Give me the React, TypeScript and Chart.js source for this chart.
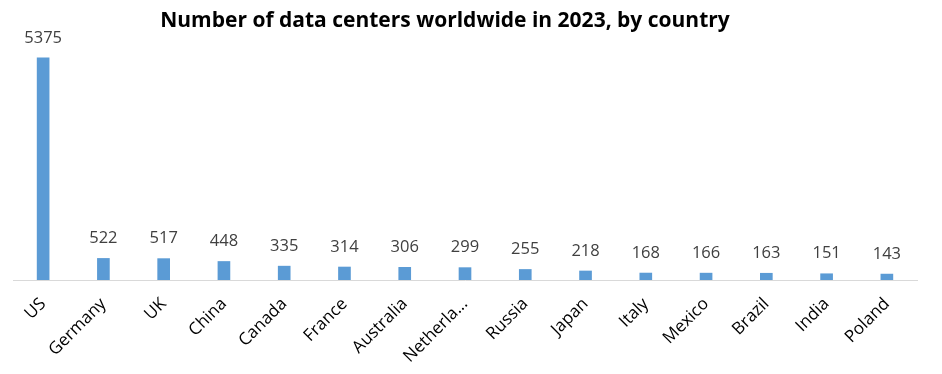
import React, { useEffect, useRef } from "react";
import { Chart, registerables } from "chart.js";

Chart.register(...registerables);

const countries = ["US", "Germany", "UK", "China", "Canada", "France", "Australia", "Netherlands", "Russia", "Japan", "Italy", "Mexico", "Brazil", "India", "Poland"];
const dataCenters = [5375, 522, 517, 448, 335, 314, 306, 299, 255, 218, 168, 166, 163, 151, 143];
const titleText = "Number of data centers worldwide in 2023, by country";
const yMax = 6000;

const FONT = "'Open Sans', 'Noto Sans', sans-serif";

const labelPlugin = {
  id: "valueLabels",
  afterDatasetsDraw(chart: any) {
    const ctx = chart.ctx;
    const meta = chart.getDatasetMeta(0);
    ctx.save();
    ctx.font = `16.5px ${FONT}`;
    ctx.fillStyle = "#404040";
    ctx.textAlign = "center";
    ctx.textBaseline = "middle";
    meta.data.forEach((bar: any, i: number) => {
      ctx.fillText(String(dataCenters[i]), bar.x, bar.y - 20);
    });
    ctx.restore();
  },
};

const titlePlugin = {
  id: "customTitle",
  afterDraw(chart: any) {
    const ctx = chart.ctx;
    ctx.save();
    ctx.font = `bold 21px ${FONT}`;
    ctx.fillStyle = "#000000";
    ctx.textAlign = "center";
    ctx.textBaseline = "middle";
    ctx.fillText(titleText, 445, 21);
    ctx.restore();
  },
};

export default function App() {
  const ref = useRef<HTMLCanvasElement>(null);
  useEffect(() => {
    document.body.style.margin = "0";
    const chart = new Chart(ref.current!, {
      type: "bar",
      data: {
        labels: countries,
        datasets: [
          {
            data: dataCenters,
            backgroundColor: "#5b9bd5",
            barThickness: 12,
          },
        ],
      },
      options: {
        animation: false,
        responsive: false,
        layout: { padding: { top: 32, left: 13, right: 25, bottom: 0 } },
        plugins: { legend: { display: false }, title: { display: false }, tooltip: { enabled: false } },
        scales: {
          y: { display: false, min: 0, max: yMax, grid: { display: false } },
          x: {
            grid: { display: false },
            border: { display: true, color: "#d9d9d9", width: 1 },
            afterFit: (scale: any) => {
              scale.height = 94;
            },
            ticks: {
              minRotation: 45,
              maxRotation: 45,
              color: "#000000",
              padding: 6,
              font: { family: FONT, size: 17 },
              callback: function (this: any, v: any) {
                const s = countries[v as number];
                return s.length > 9 ? s.slice(0, 8) + "..." : s;
              },
            },
          },
        },
      },
      plugins: [labelPlugin, titlePlugin],
    });
    return () => chart.destroy();
  }, []);
  return <canvas ref={ref} width={942} height={374} style={{ display: "block" }} />;
}
